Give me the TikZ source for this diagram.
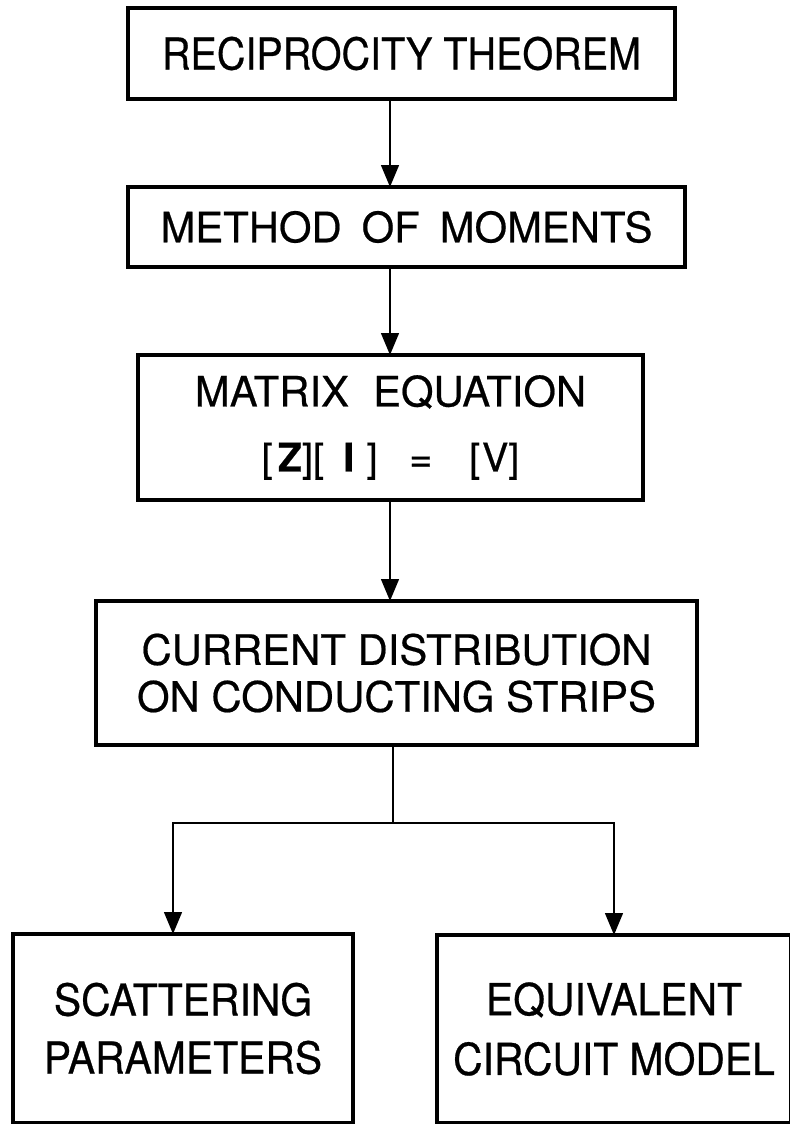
\documentclass[tikz,border=0pt]{standalone}
\usepackage{fontspec}
\setmainfont{TeX Gyre Heros}[FakeBold=0.5]
\newfontfamily\narrowfont{TeX Gyre Heros}[FakeStretch=0.9,FakeBold=0.5]
\newfontfamily\slimfont{TeX Gyre Heros}[FakeStretch=0.93,FakeBold=0.6]
\usetikzlibrary{arrows.meta}

\begin{document}
\begin{tikzpicture}[box/.style={draw,line width=1.9pt,inner sep=0pt,outer sep=0pt,align=center},link/.style={line width=1.3pt},arrow/.style={link,-{Triangle[length=12.4pt,width=10pt]}}]
\useasboundingbox (0,0) rectangle (15.78,-22.48);
\node[box,minimum width=10.94cm,minimum height=1.82cm,font=\narrowfont\fontsize{25}{30}\selectfont] (recip) at (8.03,-1.07) {RECIPROCITY THEOREM};
\node[box,minimum width=11.14cm,minimum height=1.6cm,font=\fontsize{23.8}{28}\selectfont] (mom) at (8.13,-4.54) {METHOD\hspace{.2em} OF\hspace{.2em} MOMENTS};
\node[box,minimum width=10.1cm,minimum height=2.9cm,font=\fontsize{23.8}{37}\selectfont] (mateq) at (7.81,-8.55) {MATRIX\hspace{.3em} EQUATION\\{\fontsize{22.5}{37}\selectfont[\hspace{3pt}\textbf{Z}][\hspace{11pt}\textbf{I}\hspace{7pt}]\hspace{18pt}=\hspace{21pt}[\hspace{1pt}V]}};
\node[box,minimum width=12.02cm,minimum height=2.88cm,font=\fontsize{23.8}{26.7}\selectfont] (dist) at (7.93,-13.46) {CURRENT DISTRIBUTION\\ON CONDUCTING STRIPS};
\node[box,minimum width=6.8cm,minimum height=3.78cm,font=\slimfont\fontsize{25}{33}\selectfont] (scat) at (3.66,-20.57) {SCATTERING\\PARAMETERS};
\node[box,minimum width=7.08cm,minimum height=3.76cm,font=\slimfont\fontsize{25}{34}\selectfont] (equiv) at (12.28,-20.58) {EQUIVALENT\\CIRCUIT MODEL};
\coordinate (spine) at (7.8,0);\coordinate (fork) at (7.86,-16.46);
\draw[arrow] (spine |- recip.south) -- (spine |- mom.north);
\draw[arrow] (spine |- mom.south) -- (spine |- mateq.north);
\draw[arrow] (spine |- mateq.south) -- (spine |- dist.north);
\draw[link] (dist.south -| fork) -- (fork);
\draw[arrow] (fork) -| ([xshift=-2mm]scat.north);\draw[arrow] (fork) -| (equiv.north);
\end{tikzpicture}
\end{document}
